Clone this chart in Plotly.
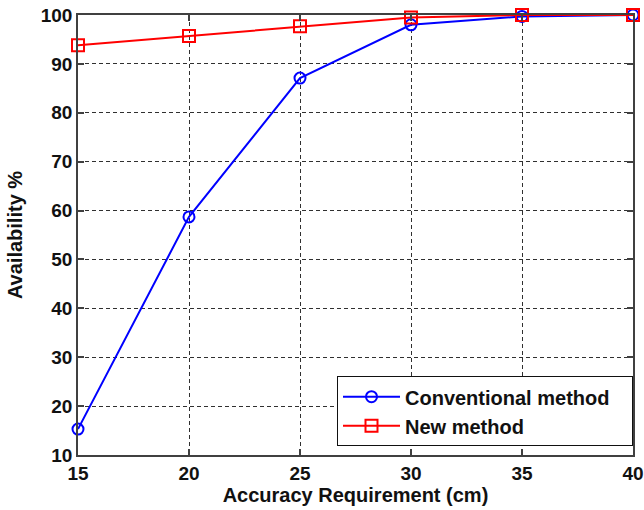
import plotly.graph_objects as go

accuracy_cm = [15, 20, 25, 30, 35, 40]
conventional = [15.3, 58.7, 87.1, 98.0, 99.7, 100.0]
new_method = [93.8, 95.7, 97.7, 99.5, 100.0, 100.0]
x_ticks = [15, 20, 25, 30, 35, 40]
y_ticks = [10, 20, 30, 40, 50, 60, 70, 80, 90, 100]

FONT = "Liberation Sans, Arial, sans-serif"
PAD = "\u00a0\u00a0\u00a0"

fig = go.Figure()
fig.add_trace(go.Scatter(
    x=accuracy_cm, y=conventional, name="Conventional method" + PAD,
    mode="lines+markers",
    line=dict(color="#0000ff", width=2),
    marker=dict(symbol="circle-open", size=11, color="#0000ff", line=dict(width=2)),
    cliponaxis=False,
))
fig.add_trace(go.Scatter(
    x=accuracy_cm, y=new_method, name="New method" + PAD,
    mode="lines+markers",
    line=dict(color="#ff0000", width=2),
    marker=dict(symbol="square-open", size=12, color="#ff0000", line=dict(width=2)),
    cliponaxis=False,
))

axis_common = dict(
    showline=True, linecolor="#404040", linewidth=1.5, mirror="ticks",
    ticks="inside", ticklen=6, tickcolor="#404040", tickwidth=1.5,
    showgrid=True, gridcolor="#303030", gridwidth=1, griddash="4px,3px",
    zeroline=False, automargin=False,
    tickfont=dict(family=FONT, size=19, color="#111111", weight="bold"),
)

fig.update_layout(
    width=644, height=510,
    margin=dict(l=78, r=11, t=15, b=55),
    paper_bgcolor="white", plot_bgcolor="white",
    font=dict(family=FONT, color="#111111"),
    xaxis=dict(
        range=[15, 40], tickvals=x_ticks,
        title=dict(text="Accuracy Requirement (cm)", standoff=2,
                   font=dict(family=FONT, size=20, color="#111111", weight="bold")),
        **axis_common,
    ),
    yaxis=dict(
        range=[10, 100], tickvals=y_ticks,
        title=dict(text="Availability %", standoff=13,
                   font=dict(family=FONT, size=20, color="#111111", weight="bold")),
        **axis_common,
    ),
    legend=dict(
        x=1, y=0.02, xanchor="right", yanchor="bottom",
        xref="paper", yref="paper",
        bgcolor="white", bordercolor="#111111", borderwidth=1,
        font=dict(family=FONT, size=20, color="#111111", weight="bold"),
        itemwidth=57, tracegroupgap=0,
    ),
    showlegend=True,
)

fig.write_html(
    "out.html",
    config={"displayModeBar": False},
    post_script="document.body.style.margin='0';document.body.style.overflow='hidden';",
)
